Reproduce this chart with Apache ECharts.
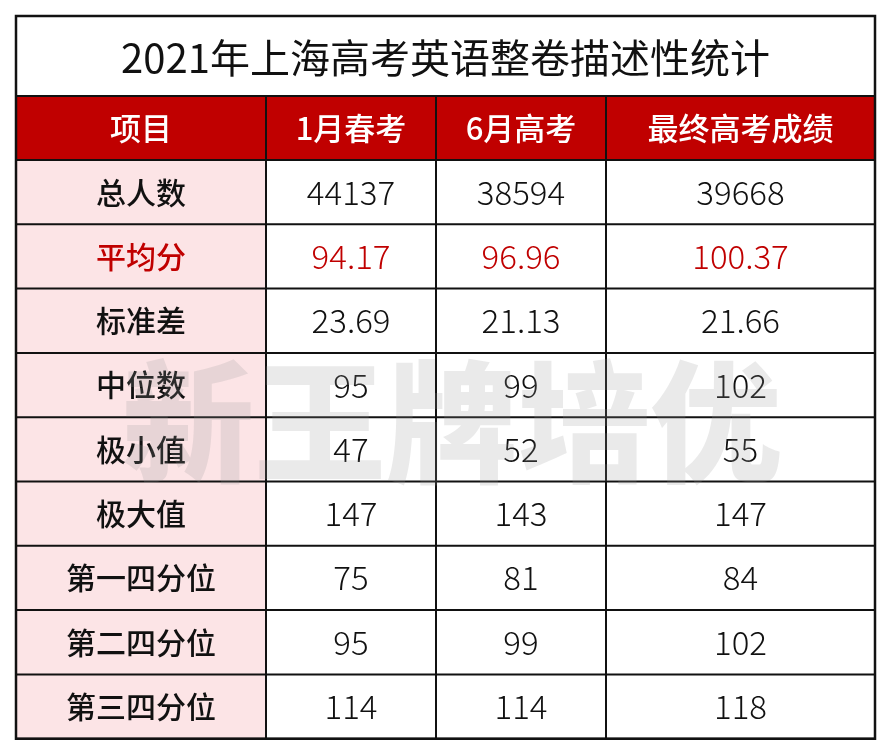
<!DOCTYPE html>
<html><head><meta charset="utf-8">
<script src="https://cdn.jsdelivr.net/npm/echarts@6/dist/echarts.min.js"></script>
<style>html,body{margin:0;padding:0;background:#fff}#main{width:888px;height:752px}</style>
</head><body><div id="main"></div>
<script>
const title = '2021年上海高考英语整卷描述性统计'
const headers = ['项目', '1月春考', '6月高考', '最终高考成绩']
const rowLabels = ['总人数', '平均分', '标准差', '中位数', '极小值', '极大值', '第一四分位', '第二四分位', '第三四分位']
const springExam = ['44137', '94.17', '23.69', '95', '47', '147', '75', '95', '114']
const juneExam = ['38594', '96.96', '21.13', '99', '52', '143', '81', '99', '114']
const finalScore = ['39668', '100.37', '21.66', '102', '55', '147', '84', '102', '118']
const highlightRow = 1

const colX = [16, 266, 436, 606, 875]
const tableTop = 16, titleH = 80, headH = 64, rowH = 64.3
const font = '"Noto Sans CJK SC", "Noto Sans", sans-serif'
const red = '#c00000'

const els = []
const columns = [rowLabels, springExam, juneExam, finalScore]
const tableBottom = tableTop + titleH + headH + rowH * rowLabels.length

// backgrounds
els.push({ type: 'rect', shape: { x: colX[0], y: tableTop + titleH, width: colX[4] - colX[0], height: headH }, style: { fill: red } })
els.push({ type: 'rect', shape: { x: colX[0], y: tableTop + titleH + headH, width: colX[1] - colX[0], height: rowH * rowLabels.length }, style: { fill: '#fce4e6' } })

// title
els.push({ type: 'text', x: (colX[0] + colX[4]) / 2, y: tableTop + titleH / 2 + 2, style: { text: title, font: '40px ' + font, fill: '#111', align: 'center', verticalAlign: 'middle' } })

// header
headers.forEach((h, i) => {
  els.push({ type: 'text', x: (colX[i] + colX[i + 1]) / 2, y: tableTop + titleH + headH / 2, style: { text: h, font: '500 31px ' + font, fill: '#fff', align: 'center', verticalAlign: 'middle' } })
})

// body
rowLabels.forEach((_, r) => {
  const cy = tableTop + titleH + headH + rowH * r + rowH / 2
  columns.forEach((col, c) => {
    els.push({ type: 'text', x: (colX[c] + colX[c + 1]) / 2, y: cy, style: {
      text: col[r], font: (c === 0 ? '500 30px ' : '300 33px ') + font,
      fill: r === highlightRow ? red : '#111', align: 'center', verticalAlign: 'middle' } })
  })
})

// grid lines
const line = (x1, y1, x2, y2, w) => els.push({ type: 'line', shape: { x1, y1, x2, y2 }, style: { stroke: '#111', lineWidth: w || 2 } })
line(colX[0], tableTop + titleH, colX[4], tableTop + titleH)
for (let r = 0; r <= rowLabels.length; r++) {
  const y = tableTop + titleH + headH + rowH * r
  line(colX[0], y, colX[4], y)
}
for (let c = 1; c < 4; c++) line(colX[c], tableTop + titleH, colX[c], tableBottom)
els.push({ type: 'rect', shape: { x: colX[0], y: tableTop, width: colX[4] - colX[0], height: tableBottom - tableTop }, style: { fill: 'none', stroke: '#111', lineWidth: 2.5 } })

// watermark
els.push({ type: 'text', x: 452, y: 422, z: 10, style: { text: '新王牌培优', font: '900 132px ' + font, fill: 'rgba(150,150,150,0.2)', align: 'center', verticalAlign: 'middle' } })

const chart = echarts.init(document.getElementById('main'), null, { renderer: 'canvas' })
chart.setOption({ animation: false, graphic: { elements: els } })
</script></body></html>
